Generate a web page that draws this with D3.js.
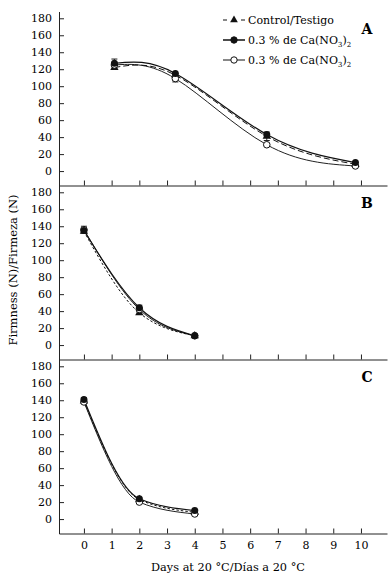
<!DOCTYPE html>
<html>
<head>
<meta charset="utf-8">
<script src="https://cdn.jsdelivr.net/npm/d3@7"></script>
<style>
  body { margin: 0; background: #fff; }
  svg { display: block; }
</style>
</head>
<body>
<div id="chart"></div>
<script>
// Days at 20 °C for each panel
const daysA = [1.1, 3.3, 6.6, 9.8];
const daysBC = [0, 2, 4];

// Panel A firmness (N)
const controlA = [122, 113, 41, 8];
const filledA = [127, 115, 43, 10];
const openA = [125, 109, 31, 6];

// Panel B
const controlB = [134, 38, 11];
const filledB = [135, 44, 11];
const openB = [136, 42, 11];

// Panel C
const controlC = [139, 23, 8];
const filledC = [141, 24, 10];
const openC = [138, 20, 6];

// error bars: [panel, day, centre, half-width]
const errorBars = [
    ["A", 1.1, 126, 6],
    ["A", 3.3, 110, 5],
    ["A", 6.6, 41, 5],
    ["B", 0, 136, 4],
    ["B", 2, 43, 4],
    ["C", 0, 140, 3]
];

const panelNames = ["A", "B", "C"];
const yTicks = [0, 20, 40, 60, 80, 100, 120, 140, 160, 180];
const xTicks = [0, 1, 2, 3, 4, 5, 6, 7, 8, 9, 10];

const legendLabels = ["Control/Testigo", "0.3 % de Ca(NO", "0.3 % de Ca(NO"];

document.addEventListener("DOMContentLoaded", () => {
    const width = 390;
    const height = 580;
    const font = "'DejaVu Serif', serif";

    const svg = d3.select("#chart")
        .append("svg")
        .attr("width", width)
        .attr("height", height)
        .style("font-family", font);

    const x = d3.scaleLinear().domain([-0.9, 10.94]).range([59, 387]);

    const panelTop = 11.5;
    const panelH = 174;

    const panels = [
        { name: "A", days: daysA, control: controlA, filled: filledA, open: openA, curve: d3.curveNatural },
        { name: "B", days: daysBC, control: controlB, filled: filledB, open: openB, curve: d3.curveMonotoneX },
        { name: "C", days: daysBC, control: controlC, filled: filledC, open: openC, curve: d3.curveMonotoneX }
    ];

    panels.forEach((p, i) => {
        const top = panelTop + i * panelH;
        const bottom = top + panelH;
        const y = d3.scaleLinear().domain([-17, 188]).range([bottom, top]);

        const g = svg.append("g");

        // y axis, ticks pointing inward
        g.append("g")
            .attr("transform", `translate(${x.range()[0]},0)`)
            .call(d3.axisLeft(y).tickValues(yTicks).tickSizeInner(-5).tickSizeOuter(0).tickPadding(7))
            .call(a => a.selectAll("text").style("font-size", "11px").style("font-family", font))
            .call(a => a.selectAll("line,path").attr("stroke", "#222"));

        // x axis with upward ticks
        const xa = g.append("g")
            .attr("transform", `translate(0,${bottom})`)
            .call(d3.axisBottom(x).tickValues(xTicks).tickSizeInner(-5).tickSizeOuter(0).tickPadding(8))
            .call(a => a.selectAll("line,path").attr("stroke", "#222"))
            .call(a => a.selectAll("text").style("font-size", "11px").style("font-family", font));
        if (i < 2) xa.selectAll("text").remove();

        // panel letter
        g.append("text")
            .attr("x", 367)
            .attr("y", top + 22)
            .attr("text-anchor", "middle")
            .style("font-size", "14px")
            .style("font-weight", "bold")
            .text(panelNames[i]);

        const line = d3.line()
            .x((d, k) => x(p.days[k]))
            .y(d => y(d))
            .curve(p.curve);

        g.append("path").datum(p.open)
            .attr("d", line).attr("fill", "none")
            .attr("stroke", "#222").attr("stroke-width", 1);
        g.append("path").datum(p.filled)
            .attr("d", line).attr("fill", "none")
            .attr("stroke", "#111").attr("stroke-width", 1.2);
        g.append("path").datum(p.control)
            .attr("d", line).attr("fill", "none")
            .attr("stroke", "#111").attr("stroke-width", 1)
            .attr("stroke-dasharray", i === 0 ? "6,3" : "2.5,2");

        // error bars
        errorBars.filter(e => e[0] === p.name).forEach(e => {
            const cx = x(e[1]);
            const eb = g.append("g").attr("stroke", "#222").attr("stroke-width", 1);
            eb.append("line").attr("x1", cx).attr("x2", cx)
                .attr("y1", y(e[2] - e[3])).attr("y2", y(e[2] + e[3]));
            [e[2] - e[3], e[2] + e[3]].forEach(v => {
                eb.append("line").attr("x1", cx - 3).attr("x2", cx + 3)
                    .attr("y1", y(v)).attr("y2", y(v));
            });
        });

        // markers
        g.selectAll(".tri").data(p.control).enter()
            .append("path")
            .attr("d", d3.symbol(d3.symbolTriangle, 30))
            .attr("transform", (d, k) => `translate(${x(p.days[k])},${y(d)})`)
            .attr("fill", "#111");
        g.selectAll(".open").data(p.open).enter()
            .append("circle")
            .attr("cx", (d, k) => x(p.days[k])).attr("cy", d => y(d))
            .attr("r", 3.3).attr("fill", "#fff").attr("stroke", "#111").attr("stroke-width", 1);
        g.selectAll(".filled").data(p.filled).enter()
            .append("circle")
            .attr("cx", (d, k) => x(p.days[k])).attr("cy", d => y(d))
            .attr("r", 3.5).attr("fill", "#111");
    });

    // axis titles
    svg.append("text")
        .attr("transform", "translate(17,270) rotate(-90)")
        .attr("text-anchor", "middle")
        .style("font-size", "11.5px")
        .text("Firmness (N)/Firmeza (N)");

    svg.append("text")
        .attr("x", 228)
        .attr("y", 571)
        .attr("text-anchor", "middle")
        .style("font-size", "11.3px")
        .text("Days at 20 °C/Días a 20 °C");

    // legend
    const legend = svg.append("g").attr("transform", "translate(223,0)");
    const rows = [20, 40, 60];
    rows.forEach((ry, k) => {
        const r = legend.append("g").attr("transform", `translate(0,${ry})`);
        if (k === 0) {
            r.append("line").attr("x1", 0).attr("x2", 22).attr("y1", 0).attr("y2", 0)
                .attr("stroke", "#111").attr("stroke-dasharray", "4,5");
            r.append("path").attr("d", d3.symbol(d3.symbolTriangle, 26))
                .attr("transform", "translate(11,0)").attr("fill", "#111");
        } else {
            r.append("line").attr("x1", 0).attr("x2", 22).attr("y1", 0).attr("y2", 0)
                .attr("stroke", "#111").attr("stroke-width", k === 1 ? 1.5 : 1);
            r.append("circle").attr("cx", 11).attr("cy", 0).attr("r", 3.2)
                .attr("fill", k === 1 ? "#111" : "#fff").attr("stroke", "#111");
        }
        const t = r.append("text")
            .attr("x", 25)
            .attr("y", 4)
            .style("font-size", "11px")
            .text(legendLabels[k]);
        if (k > 0) {
            t.append("tspan").attr("dy", 3).style("font-size", "7px").text("3");
            t.append("tspan").attr("dy", -3).text(")");
            t.append("tspan").attr("dy", 3).style("font-size", "7px").text("2");
        }
    });
});
</script>
</body>
</html>
